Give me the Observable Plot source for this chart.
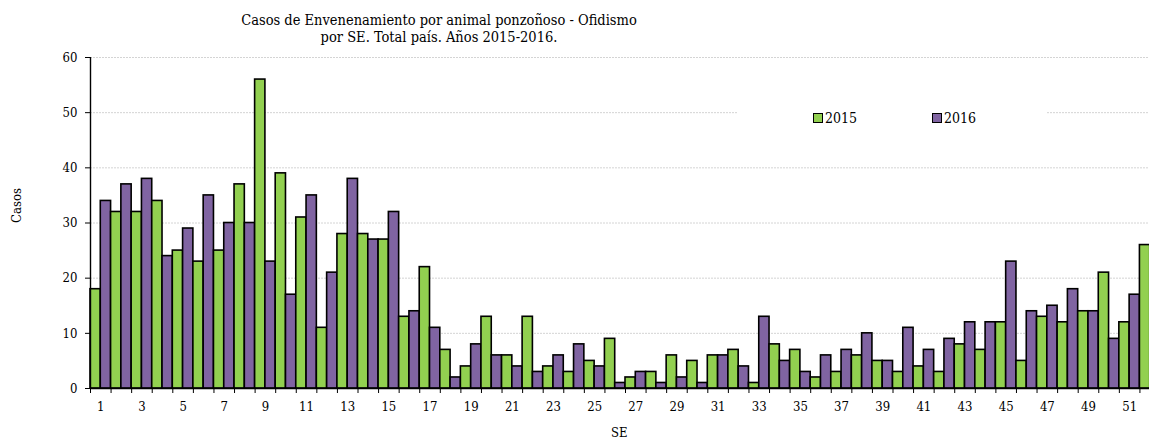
<!DOCTYPE html>
<html>
<head>
<meta charset="utf-8">
<script src="https://cdn.jsdelivr.net/npm/d3@7"></script>
<script src="https://cdn.jsdelivr.net/npm/@observablehq/plot@0.6"></script>
<style>
  html, body { margin: 0; padding: 0; background: #fff; overflow: hidden; width: 1149px; height: 439px; }
  #wrap { position: relative; width: 1149px; height: 439px; overflow: hidden; font-family: "DejaVu Serif Condensed", "DejaVu Serif", serif; font-stretch: condensed; color: #000; }
  #title { position: absolute; left: 0; width: 878px; top: 12px; text-align: center; font-size: 14.5px; line-height: 17px; }
  #legend { position: absolute; left: 738px; top: 104px; width: 309px; height: 28px; background: #fff; font-size: 14px; }
  .item { position: absolute; top: 6px; display: flex; align-items: center; }
  .sw { width: 8px; height: 8px; border: 1.5px solid #000; margin-right: 2px; }
  #chart { position: absolute; left: 0; top: 0; width: 1160px; }
  #chart svg { max-width: none !important; }
</style>
</head>
<body>
<div id="wrap">
  <div id="chart"></div>
  <div id="title">Casos de Envenenamiento por animal ponzoñoso - Ofidismo<br>por SE. Total país. Años 2015-2016.</div>
  <div id="legend"></div>
</div>
<script>
const weeks = d3.range(1, 53);
const years = ["2015", "2016"];
const cases2015 = [18,32,32,34,25,23,25,37,56,39, 31,11,28,28,27,13,22,7,4,13, 6,13,4,3,5,9,2,3,6,5, 6,7,1,8,7,2,3,6,5,3, 4,3,8,7,12,5,13,12,14,21, 12,26];
const cases2016 = [34,37,38,24,29,35,30,30,23,17, 35,21,38,27,32,14,11,2,8,6, 4,3,6,8,4,1,3,1,2,1, 6,4,13,5,3,6,7,10,5,11, 7,9,12,12,23,14,15,18,14,9, 17,null];
const colors = ["#92D050", "#8064A2"];
const yTicks = [0, 10, 20, 30, 40, 50, 60];
const xLabels = weeks.filter(w => w % 2 === 1);

const rows = [];
weeks.forEach((w, i) => {
  [cases2015[i], cases2016[i]].forEach((v, j) => {
    if (v != null) rows.push({week: w, year: years[j], value: v, x1: w - 1 + j * 0.5, x2: w - 0.5 + j * 0.5});
  });
});

const font = '"DejaVu Serif Condensed", "DejaVu Serif", serif';
const plot = Plot.plot({
  width: 1160,
  height: 439,
  marginLeft: 90,
  marginRight: 0,
  marginTop: 57,
  marginBottom: 51,
  style: {fontFamily: font, fontSize: "13px", color: "#000", background: "transparent", maxWidth: "none"},
  x: {type: "linear", domain: [0, 52], axis: null},
  y: {domain: [0, 60], axis: null},
  color: {domain: years, range: colors},
  marks: [
    Plot.ruleY(yTicks.filter(d => d > 0), {stroke: "#d4d4d4", strokeWidth: 1, strokeDasharray: "2,1"}),
    Plot.rectY(rows, {x1: "x1", x2: "x2", y: "value", fill: "year", stroke: "#000", strokeWidth: 1.6}),
    Plot.ruleY([0], {stroke: "#000", strokeWidth: 1.6}),
    Plot.ruleX([0], {y1: 0, y2: 60, stroke: "#000", strokeWidth: 1.4}),
    Plot.axisY({ticks: yTicks, tickSize: 5, tickPadding: 8, stroke: "#000", label: null, fontSize: 13}),
    Plot.axisX({ticks: d3.range(0, 53), tickFormat: () => "", tickSize: 5, stroke: "#000", label: null}),
    Plot.text(xLabels, {x: d => d - 0.5, y: 0, text: d => String(d), dy: 18, fontSize: 13, fill: "#000"}),
    Plot.text(["SE"], {frameAnchor: "bottom", x: 25.7, dy: 48, fontSize: 13, fill: "#000"}),
    Plot.text(["Casos"], {frameAnchor: "left", dx: -74, rotate: -90, fontSize: 13, fill: "#000"})
  ]
});
plot.style.maxWidth = "none";
document.getElementById("chart").appendChild(plot);

const legend = document.getElementById("legend");
years.forEach((y, i) => {
  const it = document.createElement("div");
  it.className = "item";
  it.style.left = (i === 0 ? 75 : 194) + "px";
  it.innerHTML = `<span class="sw" style="background:${colors[i]}"></span><span>${y}</span>`;
  legend.appendChild(it);
});
</script>
</body>
</html>
